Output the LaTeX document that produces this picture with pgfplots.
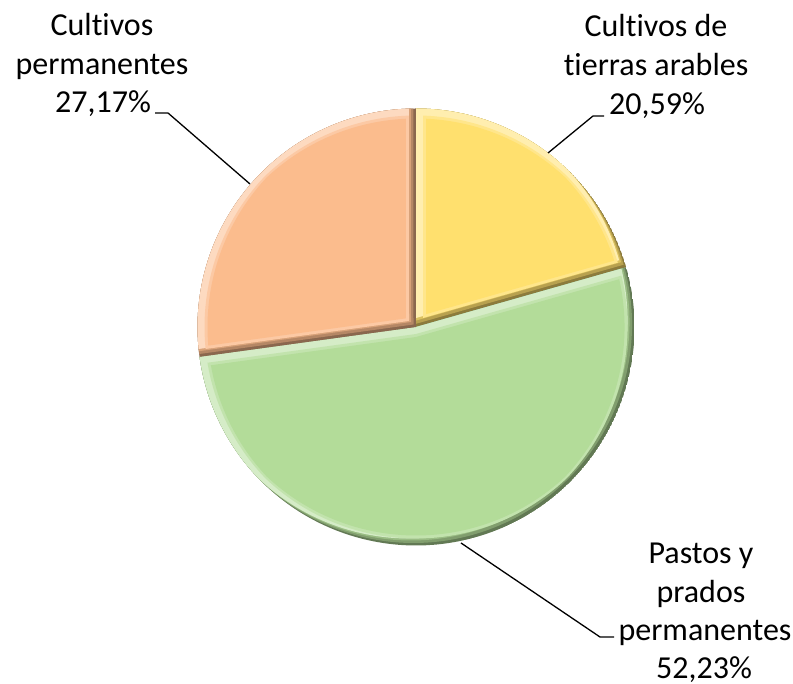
\documentclass[border=0pt]{standalone}
\usepackage{pgfplots}
\pgfplotsset{compat=1.18}
\usepackage{pgfplotstable}
\usepackage{fontspec}
\setmainfont{Carlito}[Ligatures=CommonOff]
\definecolor{cA}{HTML}{FFE06E}
\definecolor{cB}{HTML}{B3DC99}
\definecolor{cC}{HTML}{FBBC8D}

\pgfplotstableread{
name value
arables 20.59
pastos 52.23
perm 27.17
}\pietable

% slice path: centre x, centre y (axis units), start angle, end angle
\newcommand\SP[4]{(axis cs:#1,#2) -- +(#3:109.25pt) arc[start angle=#3, end angle=#4, radius=109.25pt] -- cycle}
% bevelled slice: start, end, colour
\newcommand\bevel[3]{%
  \begin{scope}
    \clip \SP{416}{357}{#1}{#2};
    \fill[#3!55!black] \SP{416}{357}{#1}{#2};
    \fill[#3!72!black] \SP{413.5}{359.5}{#1}{#2};
    \fill[#3!86!black] \SP{411}{362}{#1}{#2};
    \fill[#3!55!white] \SP{409}{364}{#1}{#2};
    \begin{scope}
      \clip \SP{423}{357}{#1}{#2};
      \clip \SP{409}{357}{#1}{#2};
      \clip \SP{416}{364}{#1}{#2};
      \clip \SP{416}{350}{#1}{#2};
      \fill[#3!80!white] \SP{416}{357}{#1}{#2};
    \end{scope}
    \begin{scope}
      \clip \SP{426}{357}{#1}{#2};
      \clip \SP{406}{357}{#1}{#2};
      \clip \SP{416}{367}{#1}{#2};
      \clip \SP{416}{347}{#1}{#2};
      \fill[#3] \SP{416}{357}{#1}{#2};
    \end{scope}
  \end{scope}}
\newcommand\lbl[3]{\node[anchor=base, inner sep=0pt, font=\fontsize{16pt}{19pt}\selectfont] at (axis cs:#1,#2) {#3};}

\begin{document}
\begin{tikzpicture}
\pgfplotstablegetelem{0}{value}\of\pietable \let\vA\pgfplotsretval
\pgfplotstablegetelem{1}{value}\of\pietable \let\vB\pgfplotsretval
\pgfplotstablegetelem{2}{value}\of\pietable \let\vC\pgfplotsretval
\pgfmathsetmacro\aA{90}
\pgfmathsetmacro\aB{90-3.6*\vA}
\pgfmathsetmacro\aC{\aB-3.6*\vB}
\pgfmathsetmacro\aD{\aC-3.6*\vC}
\begin{axis}[name=ax, x=0.5pt, y=0.5pt, xmin=0, xmax=793, ymin=0, ymax=684,
  scale only axis, hide axis, clip=false]
\bevel{\aA}{\aB}{cA}
\bevel{\aB}{\aC}{cB}
\bevel{\aC}{\aD}{cC}
% leader lines
\draw[black, line width=0.65pt] (axis cs:250,500) -- (axis cs:168,571) -- (axis cs:155,571);
\draw[black, line width=0.65pt] (axis cs:548,531) -- (axis cs:593,568) -- (axis cs:604,568);
\draw[black, line width=0.65pt] (axis cs:461,141) -- (axis cs:600,47) -- (axis cs:614,47);
% labels
\lbl{102}{648}{Cultivos}
\lbl{102}{609.5}{permanentes}
\lbl{103}{571}{27,17\%}
\lbl{656}{647}{Cultivos de}
\lbl{656}{608}{tierras arables}
\lbl{657}{569}{20,59\%}
\lbl{701}{120}{Pastos y}
\lbl{701}{81}{prados}
\lbl{705}{43}{permanentes}
\lbl{704}{5}{52,23\%}
\end{axis}
\pgfresetboundingbox
\path (ax.south west) rectangle (ax.north east);
\end{tikzpicture}
\end{document}
